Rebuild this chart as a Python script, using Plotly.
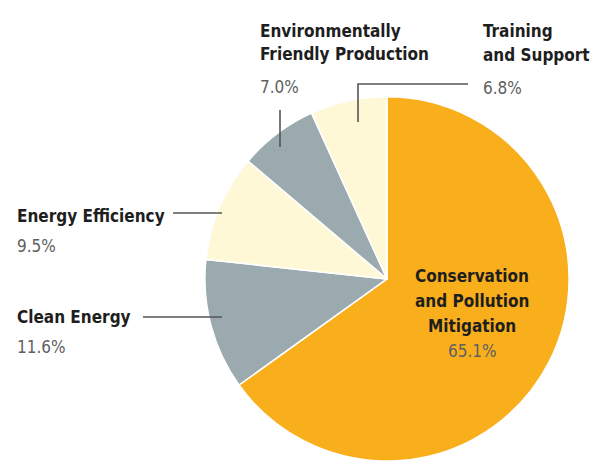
import plotly.graph_objects as go

labels = ["Conservation and Pollution Mitigation", "Clean Energy", "Energy Efficiency",
          "Environmentally Friendly Production", "Training and Support"]
label_lines = [["Conservation", "and Pollution", "Mitigation"], ["Clean Energy"], ["Energy Efficiency"],
               ["Environmentally", "Friendly Production"], ["Training", "and Support"]]
values = [65.1, 11.6, 9.5, 7.0, 6.8]
colors = ["#F9AE1B", "#9BAAAF", "#FFF8D6", "#9BAAAF", "#FFF8D6"]

W, H = 596, 461
FONT = "Liberation Sans Narrow, DejaVu Sans Condensed, Arial Narrow, sans-serif"
DARK = "#1e1e1e"
GREY = "#606060"

fig = go.Figure(go.Pie(
    labels=labels, values=values, sort=False, direction="clockwise", rotation=0,
    marker=dict(colors=colors, line=dict(color="white", width=1.5)),
    textinfo="none", hoverinfo="label+percent", showlegend=False,
    domain=dict(x=[202 / W, 572 / W], y=[0, 0.79]),
))


def px(x):
    return x / W


def py(y):
    return 1 - y / H


# label layout: (x, first-line y, line gap, percent y, anchor) in pixels
label_pos = [
    (472, 275.5, 25, 351, "center"),
    (15, 317, 0, 347, "left"),
    (15, 215.5, 0, 246, "left"),
    (258, 31, 23, 86.5, "left"),
    (481, 31, 23.5, 88, "left"),
]
annotations = []
for i, (x, y, gap, pct_y, align) in enumerate(label_pos):
    for j, t in enumerate(label_lines[i]):
        annotations.append(dict(x=px(x), y=py(y + j * gap), xref="paper", yref="paper",
                                text="<b>%s</b>" % t, showarrow=False, xanchor=align, yanchor="middle",
                                font=dict(family=FONT, size=17, color=DARK)))
    annotations.append(dict(x=px(x), y=py(pct_y), xref="paper", yref="paper",
                            text="%.1f%%" % values[i], showarrow=False,
                            xanchor=align, yanchor="middle",
                            font=dict(family=FONT, size=17, color=GREY)))

# leader lines (pixel coords)
leaders = [
    [(143, 317), (222, 317)],
    [(173, 213), (222, 213)],
    [(280, 110), (280, 147)],
    [(468, 84), (358, 84), (358, 122)],
]
shapes = []
for pts in leaders:
    path = "M " + " L ".join("%f,%f" % (px(a), py(b)) for a, b in pts)
    shapes.append(dict(type="path", path=path, xref="paper", yref="paper",
                       line=dict(color="#555555", width=1.6)))

fig.update_layout(width=W, height=H, margin=dict(l=0, r=0, t=0, b=0),
                  paper_bgcolor="white", plot_bgcolor="white",
                  annotations=annotations, shapes=shapes)
fig.write_html("out.html", config={"displayModeBar": False},
               post_script="document.body.style.margin='0';")
